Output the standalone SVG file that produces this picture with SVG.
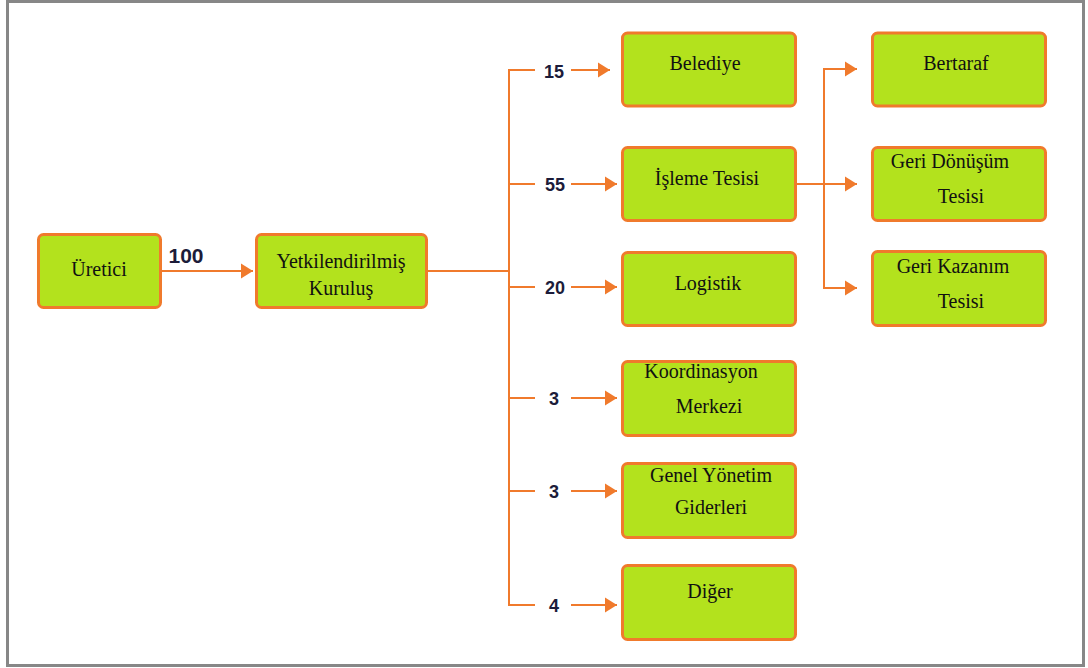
<svg xmlns="http://www.w3.org/2000/svg" width="1088" height="668" viewBox="0 0 1088 668">
<defs>
<style>
.node rect{fill:#B3E21D;stroke:#F07A2C;stroke-width:3}
.node text{font-family:"Liberation Serif","DejaVu Serif",serif;font-size:20px;fill:#111;text-anchor:middle}
.conn line{stroke:#F07A2C;stroke-width:2;fill:none}
.lbl{font-family:"Liberation Sans","DejaVu Sans",sans-serif;font-weight:bold;font-size:18px;fill:#1c1c3a;text-anchor:middle}
.big{font-size:21px}
</style>
<marker id="arr" markerWidth="13" markerHeight="16" refX="12" refY="8" orient="auto" markerUnits="userSpaceOnUse">
<path d="M0,0.5 L12,8 L0,15.5 Z" fill="#F07A2C"/>
</marker>
</defs>
<rect x="0" y="0" width="1088" height="668" fill="#fff"/>
<rect x="7.5" y="1.5" width="1076" height="664" fill="none" stroke="#878787" stroke-width="3"/>

<g class="conn">
<line x1="162" y1="271" x2="253" y2="271" marker-end="url(#arr)"/>
<line x1="428" y1="271" x2="509" y2="271"/>
<line x1="509" y1="69" x2="509" y2="606"/>
<line x1="508" y1="70" x2="535" y2="70"/><line x1="571" y1="70" x2="610" y2="70" marker-end="url(#arr)"/>
<line x1="509" y1="184" x2="535" y2="184"/><line x1="571" y1="184" x2="617" y2="184" marker-end="url(#arr)"/>
<line x1="509" y1="287" x2="535" y2="287"/><line x1="571" y1="287" x2="617" y2="287" marker-end="url(#arr)"/>
<line x1="509" y1="398" x2="535" y2="398"/><line x1="571" y1="398" x2="617" y2="398" marker-end="url(#arr)"/>
<line x1="509" y1="491" x2="535" y2="491"/><line x1="571" y1="491" x2="617" y2="491" marker-end="url(#arr)"/>
<line x1="508" y1="605" x2="535" y2="605"/><line x1="571" y1="605" x2="617" y2="605" marker-end="url(#arr)"/>
<line x1="797" y1="184" x2="857" y2="184" marker-end="url(#arr)"/>
<line x1="824" y1="69" x2="824" y2="289"/>
<line x1="823" y1="69" x2="857" y2="69" marker-end="url(#arr)"/>
<line x1="823" y1="288" x2="857" y2="288" marker-end="url(#arr)"/>
<text class="lbl big" x="186" y="263">100</text>
<text class="lbl" x="554" y="78">15</text>
<text class="lbl" x="555" y="191">55</text>
<text class="lbl" x="555" y="294">20</text>
<text class="lbl" x="554" y="405">3</text>
<text class="lbl" x="554" y="498">3</text>
<text class="lbl" x="554" y="612">4</text>
</g>

<g id="uretici" class="node"><rect x="38.5" y="234.5" width="122" height="73" rx="5"/><text x="99" y="276">Üretici</text></g>
<g id="yetkili" class="node"><rect x="256.5" y="234.5" width="170" height="73" rx="5"/><text x="341" y="268">Yetkilendirilmiş</text><text x="341" y="295">Kuruluş</text></g>
<g id="belediye" class="node"><rect x="622.5" y="33" width="173" height="73" rx="5"/><text x="705" y="70">Belediye</text></g>
<g id="isleme" class="node"><rect x="622.5" y="147.5" width="173" height="73" rx="5"/><text x="707" y="185">İşleme Tesisi</text></g>
<g id="logistik" class="node"><rect x="622.5" y="252.5" width="173" height="73" rx="5"/><text x="708" y="290">Logistik</text></g>
<g id="koordinasyon" class="node"><rect x="622.5" y="361.5" width="173" height="74" rx="5"/><text x="701" y="378">Koordinasyon</text><text x="709" y="413">Merkezi</text></g>
<g id="genel" class="node"><rect x="622.5" y="463.5" width="173" height="74" rx="5"/><text x="711" y="482">Genel Yönetim</text><text x="711" y="514">Giderleri</text></g>
<g id="diger" class="node"><rect x="622.5" y="565.5" width="173" height="74" rx="5"/><text x="710" y="598">Diğer</text></g>
<g id="bertaraf" class="node"><rect x="872.5" y="33" width="173" height="73" rx="5"/><text x="956" y="70">Bertaraf</text></g>
<g id="geridonusum" class="node"><rect x="872.5" y="147.5" width="173" height="73" rx="5"/><text x="950" y="168">Geri Dönüşüm</text><text x="961" y="203">Tesisi</text></g>
<g id="gerikazanim" class="node"><rect x="872.5" y="251.5" width="173" height="74" rx="5"/><text x="953" y="273">Geri Kazanım</text><text x="961" y="308">Tesisi</text></g>
</svg>
